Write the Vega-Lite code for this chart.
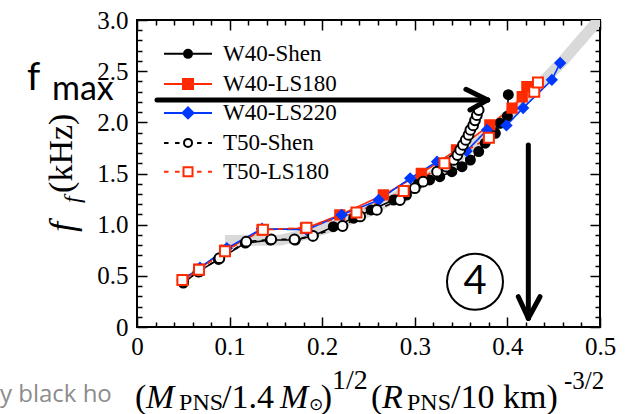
{
"$schema": "https://vega.github.io/schema/vega-lite/v6.json",
"width": 463, "height": 307,
"autosize": {"type": "none"},
"padding": {"left": 137, "top": 20, "right": 30, "bottom": 87},
"background": "white",
"config": {"view": {"stroke": "black", "strokeWidth": 2}, "legend": {"disable": true}, "axis": {"grid": false, "domain": false, "tickColor": "black", "tickWidth": 1.5, "labelFont": "Liberation Serif", "labelFontSize": 25, "labelColor": "black", "labelOverlap": false, "labelFlush": false}},
"data": {"values": [{}]},
"datasets": {
"band": [{"x":0.095,"y":0.845},{"x":0.155,"y":0.85},{"x":0.18,"y":0.9},{"x":0.21,"y":0.98},{"x":0.25,"y":1.13},{"x":0.30,"y":1.37},{"x":0.34,"y":1.61},{"x":0.38,"y":1.90},{"x":0.42,"y":2.23},{"x":0.46,"y":2.60},{"x":0.50,"y":3.02}],
"series": [
{"series":"W40-Shen","x":0.050,"y":0.430},{"series":"W40-Shen","x":0.066,"y":0.540},{"series":"W40-Shen","x":0.088,"y":0.660},{"series":"W40-Shen","x":0.117,"y":0.820},{"series":"W40-Shen","x":0.144,"y":0.850},{"series":"W40-Shen","x":0.171,"y":0.850},{"series":"W40-Shen","x":0.190,"y":0.890},{"series":"W40-Shen","x":0.212,"y":0.980},{"series":"W40-Shen","x":0.234,"y":1.063},{"series":"W40-Shen","x":0.253,"y":1.144},{"series":"W40-Shen","x":0.277,"y":1.241},{"series":"W40-Shen","x":0.291,"y":1.290},{"series":"W40-Shen","x":0.304,"y":1.405},{"series":"W40-Shen","x":0.316,"y":1.437},{"series":"W40-Shen","x":0.327,"y":1.469},{"series":"W40-Shen","x":0.340,"y":1.518},{"series":"W40-Shen","x":0.351,"y":1.567},{"series":"W40-Shen","x":0.360,"y":1.632},{"series":"W40-Shen","x":0.369,"y":1.714},{"series":"W40-Shen","x":0.376,"y":1.796},{"series":"W40-Shen","x":0.387,"y":1.893},{"series":"W40-Shen","x":0.392,"y":1.990},{"series":"W40-Shen","x":0.400,"y":2.060},{"series":"W40-Shen","x":0.401,"y":2.270},
{"series":"W40-LS180","x":0.050,"y":0.460},{"series":"W40-LS180","x":0.067,"y":0.565},{"series":"W40-LS180","x":0.095,"y":0.750},{"series":"W40-LS180","x":0.135,"y":0.950},{"series":"W40-LS180","x":0.182,"y":0.965},{"series":"W40-LS180","x":0.219,"y":1.095},{"series":"W40-LS180","x":0.266,"y":1.290},{"series":"W40-LS180","x":0.307,"y":1.500},{"series":"W40-LS180","x":0.345,"y":1.730},{"series":"W40-LS180","x":0.381,"y":1.975},{"series":"W40-LS180","x":0.405,"y":2.140},{"series":"W40-LS180","x":0.416,"y":2.250},{"series":"W40-LS180","x":0.421,"y":2.350},
{"series":"W40-LS220","x":0.049,"y":0.460},{"series":"W40-LS220","x":0.068,"y":0.580},{"series":"W40-LS220","x":0.097,"y":0.770},{"series":"W40-LS220","x":0.135,"y":0.960},{"series":"W40-LS220","x":0.183,"y":0.950},{"series":"W40-LS220","x":0.221,"y":1.095},{"series":"W40-LS220","x":0.261,"y":1.241},{"series":"W40-LS220","x":0.295,"y":1.453},{"series":"W40-LS220","x":0.324,"y":1.616},{"series":"W40-LS220","x":0.356,"y":1.720},{"series":"W40-LS220","x":0.378,"y":1.926},{"series":"W40-LS220","x":0.399,"y":1.970},{"series":"W40-LS220","x":0.417,"y":2.140},{"series":"W40-LS220","x":0.448,"y":2.415},{"series":"W40-LS220","x":0.457,"y":2.580},
{"series":"T50-Shen","x":0.050,"y":0.443},{"series":"T50-Shen","x":0.067,"y":0.541},{"series":"T50-Shen","x":0.089,"y":0.672},{"series":"T50-Shen","x":0.118,"y":0.834},{"series":"T50-Shen","x":0.145,"y":0.857},{"series":"T50-Shen","x":0.170,"y":0.857},{"series":"T50-Shen","x":0.190,"y":0.890},{"series":"T50-Shen","x":0.222,"y":0.987},{"series":"T50-Shen","x":0.241,"y":1.080},{"series":"T50-Shen","x":0.259,"y":1.144},{"series":"T50-Shen","x":0.284,"y":1.241},{"series":"T50-Shen","x":0.300,"y":1.356},{"series":"T50-Shen","x":0.309,"y":1.420},{"series":"T50-Shen","x":0.324,"y":1.518},{"series":"T50-Shen","x":0.334,"y":1.567},{"series":"T50-Shen","x":0.342,"y":1.632},{"series":"T50-Shen","x":0.346,"y":1.680},{"series":"T50-Shen","x":0.349,"y":1.730},{"series":"T50-Shen","x":0.352,"y":1.779},{"series":"T50-Shen","x":0.355,"y":1.828},{"series":"T50-Shen","x":0.358,"y":1.877},{"series":"T50-Shen","x":0.360,"y":1.926},{"series":"T50-Shen","x":0.363,"y":1.970},{"series":"T50-Shen","x":0.365,"y":2.020},{"series":"T50-Shen","x":0.367,"y":2.070},{"series":"T50-Shen","x":0.369,"y":2.120},
{"series":"T50-LS180","x":0.049,"y":0.460},{"series":"T50-LS180","x":0.067,"y":0.560},{"series":"T50-LS180","x":0.095,"y":0.740},{"series":"T50-LS180","x":0.136,"y":0.950},{"series":"T50-LS180","x":0.183,"y":0.970},{"series":"T50-LS180","x":0.237,"y":1.120},{"series":"T50-LS180","x":0.288,"y":1.330},{"series":"T50-LS180","x":0.332,"y":1.600},{"series":"T50-LS180","x":0.380,"y":1.850},{"series":"T50-LS180","x":0.429,"y":2.300},{"series":"T50-LS180","x":0.433,"y":2.390}
],
"segments": [
{"x":0.0216,"y":2.219,"x2":0.3787,"y2":2.219},
{"x":0.3552,"y":2.323,"x2":0.3787,"y2":2.219},
{"x":0.3596,"y":2.121,"x2":0.3787,"y2":2.219},
{"x":0.4226,"y":1.779,"x2":0.4226,"y2":0.085},
{"x":0.4118,"y":0.296,"x2":0.4226,"y2":0.085},
{"x":0.4352,"y":0.296,"x2":0.4226,"y2":0.085}
]
},
"resolve": {"axis": {"x": "independent", "y": "independent"}},
"layer": [
{"data": {"name": "band"},
 "mark": {"type": "line", "color": "#d9d9d9", "strokeWidth": 11, "clip": true, "strokeCap": "butt"},
 "encoding": {
  "x": {"field": "x", "type": "quantitative", "scale": {"domain": [0, 0.5], "nice": false, "zero": false},
        "axis": {"orient": "bottom", "values": [0, 0.1, 0.2, 0.3, 0.4, 0.5], "tickSize": -10, "labelPadding": 17, "title": null, "labelExpr": "datum.value === 0 ? '0' : format(datum.value, '.1f')"}},
  "y": {"field": "y", "type": "quantitative", "scale": {"domain": [0, 3], "nice": false, "zero": false},
        "axis": {"orient": "left", "values": [0, 0.5, 1, 1.5, 2, 2.5, 3], "tickSize": -10, "labelPadding": 19, "title": null, "labelExpr": "datum.value === 0 ? '0' : format(datum.value, '.1f')"}}
 }},
{"data": {"name": "series"},
 "mark": {"type": "line", "strokeWidth": 1.6},
 "encoding": {
  "x": {"field": "x", "type": "quantitative", "axis": {"orient": "bottom", "values": [0.02,0.04,0.06,0.08,0.12,0.14,0.16,0.18,0.22,0.24,0.26,0.28,0.32,0.34,0.36,0.38,0.42,0.44,0.46,0.48], "tickSize": -5, "labels": false, "title": null}},
  "y": {"field": "y", "type": "quantitative", "axis": {"orient": "left", "values": [0.1,0.2,0.3,0.4,0.6,0.7,0.8,0.9,1.1,1.2,1.3,1.4,1.6,1.7,1.8,1.9,2.1,2.2,2.3,2.4,2.6,2.7,2.8,2.9], "tickSize": -5, "labels": false, "title": null}},
  "stroke": {"field": "series", "type": "nominal", "scale": {"domain": ["W40-Shen","W40-LS180","W40-LS220","T50-Shen","T50-LS180"], "range": ["#000000","#ff2a00","#0038ff","#000000","#ff2a00"]}, "legend": null},
  "strokeDash": {"field": "series", "type": "nominal", "scale": {"domain": ["W40-Shen","W40-LS180","W40-LS220","T50-Shen","T50-LS180"], "range": [[1,0],[1,0],[1,0],[5,5],[5,5]]}, "legend": null}
 }},
{"data": {"name": "series"},
 "mark": {"type": "point", "filled": true, "strokeWidth": 2, "opacity": 1},
 "encoding": {
  "x": {"field": "x", "type": "quantitative", "axis": {"orient": "top", "values": [0, 0.1, 0.2, 0.3, 0.4, 0.5], "tickSize": -10, "labels": false, "title": null}},
  "y": {"field": "y", "type": "quantitative", "axis": {"orient": "right", "values": [0, 0.5, 1, 1.5, 2, 2.5, 3], "tickSize": -10, "labels": false, "title": null}},
  "stroke": {"field": "series", "type": "nominal", "legend": null},
  "fill": {"field": "series", "type": "nominal", "scale": {"domain": ["W40-Shen","W40-LS180","W40-LS220","T50-Shen","T50-LS180"], "range": ["#000000","#ff2a00","#0038ff","#ffffff","#ffffff"]}, "legend": null},
  "shape": {"field": "series", "type": "nominal", "scale": {"domain": ["W40-Shen","W40-LS180","W40-LS220","T50-Shen","T50-LS180"], "range": ["circle","square","diamond","circle","square"]}, "legend": null},
  "size": {"field": "series", "type": "nominal", "scale": {"domain": ["W40-Shen","W40-LS180","W40-LS220","T50-Shen","T50-LS180"], "range": [81, 100, 144, 100, 121]}, "legend": null}
 }},
{"data": {"name": "segments"},
 "mark": {"type": "rule", "color": "black", "strokeWidth": 5, "strokeCap": "round"},
 "encoding": {
  "x": {"field": "x", "type": "quantitative", "axis": {"orient": "top", "values": [0.02,0.04,0.06,0.08,0.12,0.14,0.16,0.18,0.22,0.24,0.26,0.28,0.32,0.34,0.36,0.38,0.42,0.44,0.46,0.48], "tickSize": -5, "labels": false, "title": null}},
  "y": {"field": "y", "type": "quantitative", "axis": {"orient": "right", "values": [0.1,0.2,0.3,0.4,0.6,0.7,0.8,0.9,1.1,1.2,1.3,1.4,1.6,1.7,1.8,1.9,2.1,2.2,2.3,2.4,2.6,2.7,2.8,2.9], "tickSize": -5, "labels": false, "title": null}},
  "x2": {"field": "x2"}, "y2": {"field": "y2"}
 }},
{"encoding": {"y": {"datum": 2.669, "type": "quantitative", "axis": null}},
 "layer": [
  {"mark": {"type": "rule", "color": "black", "strokeWidth": 2}, "encoding": {"x": {"datum": 0.0292, "type": "quantitative", "axis": null}, "x2": {"datum": 0.081}}},
  {"mark": {"type": "point", "shape": "circle", "filled": true, "fill": "black", "stroke": "black", "strokeWidth": 2, "size": 64, "opacity": 1}, "encoding": {"x": {"datum": 0.0551, "type": "quantitative", "axis": null}}},
  {"mark": {"type": "text", "text": "W40-Shen", "font": "Liberation Serif", "fontSize": 23, "align": "left", "baseline": "middle", "color": "black"}, "encoding": {"x": {"datum": 0.0929, "type": "quantitative", "axis": null}}}
 ]},
{"encoding": {"y": {"datum": 2.375, "type": "quantitative", "axis": null}},
 "layer": [
  {"mark": {"type": "rule", "color": "#ff2a00", "strokeWidth": 2}, "encoding": {"x": {"datum": 0.0292, "type": "quantitative", "axis": null}, "x2": {"datum": 0.081}}},
  {"mark": {"type": "point", "shape": "square", "filled": true, "fill": "#ff2a00", "stroke": "#ff2a00", "strokeWidth": 2, "size": 100, "opacity": 1}, "encoding": {"x": {"datum": 0.0551, "type": "quantitative", "axis": null}}},
  {"mark": {"type": "text", "text": "W40-LS180", "font": "Liberation Serif", "fontSize": 23, "align": "left", "baseline": "middle", "color": "black"}, "encoding": {"x": {"datum": 0.0929, "type": "quantitative", "axis": null}}}
 ]},
{"encoding": {"y": {"datum": 2.092, "type": "quantitative", "axis": null}},
 "layer": [
  {"mark": {"type": "rule", "color": "#0038ff", "strokeWidth": 2}, "encoding": {"x": {"datum": 0.0292, "type": "quantitative", "axis": null}, "x2": {"datum": 0.081}}},
  {"mark": {"type": "point", "shape": "diamond", "filled": true, "fill": "#0038ff", "stroke": "#0038ff", "strokeWidth": 2, "size": 121, "opacity": 1}, "encoding": {"x": {"datum": 0.0551, "type": "quantitative", "axis": null}}},
  {"mark": {"type": "text", "text": "W40-LS220", "font": "Liberation Serif", "fontSize": 23, "align": "left", "baseline": "middle", "color": "black"}, "encoding": {"x": {"datum": 0.0929, "type": "quantitative", "axis": null}}}
 ]},
{"encoding": {"y": {"datum": 1.799, "type": "quantitative", "axis": null}},
 "layer": [
  {"mark": {"type": "rule", "color": "black", "strokeWidth": 2, "strokeDash": [4.5, 6.5]}, "encoding": {"x": {"datum": 0.0292, "type": "quantitative", "axis": null}, "x2": {"datum": 0.081}}},
  {"mark": {"type": "point", "shape": "circle", "filled": true, "fill": "white", "stroke": "black", "strokeWidth": 2, "size": 64, "opacity": 1}, "encoding": {"x": {"datum": 0.0551, "type": "quantitative", "axis": null}}},
  {"mark": {"type": "text", "text": "T50-Shen", "font": "Liberation Serif", "fontSize": 23, "align": "left", "baseline": "middle", "color": "black"}, "encoding": {"x": {"datum": 0.0929, "type": "quantitative", "axis": null}}}
 ]},
{"encoding": {"y": {"datum": 1.517, "type": "quantitative", "axis": null}},
 "layer": [
  {"mark": {"type": "rule", "color": "#ff2a00", "strokeWidth": 2, "strokeDash": [4.5, 6.5]}, "encoding": {"x": {"datum": 0.0292, "type": "quantitative", "axis": null}, "x2": {"datum": 0.081}}},
  {"mark": {"type": "point", "shape": "square", "filled": true, "fill": "white", "stroke": "#ff2a00", "strokeWidth": 2, "size": 81, "opacity": 1}, "encoding": {"x": {"datum": 0.0551, "type": "quantitative", "axis": null}}},
  {"mark": {"type": "text", "text": "T50-LS180", "font": "Liberation Serif", "fontSize": 23, "align": "left", "baseline": "middle", "color": "black"}, "encoding": {"x": {"datum": 0.0929, "type": "quantitative", "axis": null}}}
 ]},
{"mark": {"type": "point", "shape": "circle", "filled": false, "size": 3136, "stroke": "black", "strokeWidth": 2, "opacity": 1},
 "encoding": {"x": {"datum": 0.365, "type": "quantitative", "axis": null}, "y": {"datum": 0.443, "type": "quantitative", "axis": null}}},
{"mark": {"type": "text", "text": "4", "font": "Lato", "fontSize": 40, "align": "center", "baseline": "middle", "color": "black"},
 "encoding": {"x": {"datum": 0.365, "type": "quantitative", "axis": null}, "y": {"datum": 0.443, "type": "quantitative", "axis": null}}},
{"mark": {"type": "text", "text": "f", "font": "Lato", "fontSize": 38, "align": "left", "baseline": "alphabetic", "color": "black"},
 "encoding": {"x": {"datum": -0.1188, "type": "quantitative", "axis": null}, "y": {"datum": 2.317, "type": "quantitative", "axis": null}}},
{"mark": {"type": "text", "text": "max", "font": "Lato", "fontSize": 34, "align": "left", "baseline": "alphabetic", "color": "black"},
 "encoding": {"x": {"datum": -0.0918, "type": "quantitative", "axis": null}, "y": {"datum": 2.219, "type": "quantitative", "axis": null}}},
{"mark": {"type": "text", "text": "y black ho", "font": "Open Sans", "fontSize": 24, "align": "left", "baseline": "alphabetic", "color": "#8c8c8c"},
 "encoding": {"x": {"datum": -0.148, "type": "quantitative", "axis": null}, "y": {"datum": -0.733, "type": "quantitative", "axis": null}}},
{"mark": {"type": "text", "text": "f", "font": "Liberation Serif", "fontStyle": "italic", "fontSize": 36, "align": "left", "baseline": "alphabetic", "angle": 270, "color": "black"},
 "encoding": {"x": {"datum": -0.068, "type": "quantitative", "axis": null}, "y": {"datum": 0.929, "type": "quantitative", "axis": null}}},
{"mark": {"type": "text", "text": "f", "font": "Liberation Serif", "fontStyle": "italic", "fontSize": 24, "align": "left", "baseline": "alphabetic", "angle": 270, "color": "black"},
 "encoding": {"x": {"datum": -0.0616, "type": "quantitative", "axis": null}, "y": {"datum": 1.212, "type": "quantitative", "axis": null}}},
{"mark": {"type": "text", "text": "(kHz)", "font": "Liberation Serif", "fontSize": 34, "align": "left", "baseline": "alphabetic", "angle": 270, "color": "black"},
 "encoding": {"x": {"datum": -0.0702, "type": "quantitative", "axis": null}, "y": {"datum": 1.31, "type": "quantitative", "axis": null}}},
{"mark": {"type": "text", "text": "(", "font": "Liberation Serif", "fontSize": 34, "align": "left", "baseline": "alphabetic", "color": "black"},
 "encoding": {"x": {"datum": -0.0022, "type": "quantitative", "axis": null}, "y": {"datum": -0.792, "type": "quantitative", "axis": null}}},
{"mark": {"type": "text", "text": "M", "font": "Liberation Serif", "fontStyle": "italic", "fontSize": 34, "align": "left", "baseline": "alphabetic", "color": "black"},
 "encoding": {"x": {"datum": 0.0097, "type": "quantitative", "axis": null}, "y": {"datum": -0.792, "type": "quantitative", "axis": null}}},
{"mark": {"type": "text", "text": "PNS", "font": "Liberation Serif", "fontSize": 24, "align": "left", "baseline": "alphabetic", "color": "black"},
 "encoding": {"x": {"datum": 0.0454, "type": "quantitative", "axis": null}, "y": {"datum": -0.81, "type": "quantitative", "axis": null}}},
{"mark": {"type": "text", "text": "/1.4", "font": "Liberation Serif", "fontSize": 34, "align": "left", "baseline": "alphabetic", "color": "black"},
 "encoding": {"x": {"datum": 0.0918, "type": "quantitative", "axis": null}, "y": {"datum": -0.792, "type": "quantitative", "axis": null}}},
{"mark": {"type": "text", "text": "M", "font": "Liberation Serif", "fontStyle": "italic", "fontSize": 34, "align": "left", "baseline": "alphabetic", "color": "black"},
 "encoding": {"x": {"datum": 0.1544, "type": "quantitative", "axis": null}, "y": {"datum": -0.792, "type": "quantitative", "axis": null}}},
{"mark": {"type": "text", "text": "⊙", "font": "DejaVu Sans", "fontSize": 17, "align": "left", "baseline": "alphabetic", "color": "black"},
 "encoding": {"x": {"datum": 0.1858, "type": "quantitative", "axis": null}, "y": {"datum": -0.81, "type": "quantitative", "axis": null}}},
{"mark": {"type": "text", "text": ")", "font": "Liberation Serif", "fontSize": 34, "align": "left", "baseline": "alphabetic", "color": "black"},
 "encoding": {"x": {"datum": 0.1985, "type": "quantitative", "axis": null}, "y": {"datum": -0.792, "type": "quantitative", "axis": null}}},
{"mark": {"type": "text", "text": "1/2", "font": "Liberation Serif", "fontSize": 28, "align": "left", "baseline": "alphabetic", "color": "black"},
 "encoding": {"x": {"datum": 0.2105, "type": "quantitative", "axis": null}, "y": {"datum": -0.606, "type": "quantitative", "axis": null}}},
{"mark": {"type": "text", "text": "(", "font": "Liberation Serif", "fontSize": 34, "align": "left", "baseline": "alphabetic", "color": "black"},
 "encoding": {"x": {"datum": 0.2527, "type": "quantitative", "axis": null}, "y": {"datum": -0.792, "type": "quantitative", "axis": null}}},
{"mark": {"type": "text", "text": "R", "font": "Liberation Serif", "fontStyle": "italic", "fontSize": 34, "align": "left", "baseline": "alphabetic", "color": "black"},
 "encoding": {"x": {"datum": 0.2646, "type": "quantitative", "axis": null}, "y": {"datum": -0.792, "type": "quantitative", "axis": null}}},
{"mark": {"type": "text", "text": "PNS", "font": "Liberation Serif", "fontSize": 24, "align": "left", "baseline": "alphabetic", "color": "black"},
 "encoding": {"x": {"datum": 0.2916, "type": "quantitative", "axis": null}, "y": {"datum": -0.81, "type": "quantitative", "axis": null}}},
{"mark": {"type": "text", "text": "/10 km)", "font": "Liberation Serif", "fontSize": 34, "align": "left", "baseline": "alphabetic", "color": "black"},
 "encoding": {"x": {"datum": 0.3391, "type": "quantitative", "axis": null}, "y": {"datum": -0.792, "type": "quantitative", "axis": null}}},
{"mark": {"type": "text", "text": "-3/2", "font": "Liberation Serif", "fontSize": 25, "align": "left", "baseline": "alphabetic", "color": "black"},
 "encoding": {"x": {"datum": 0.4611, "type": "quantitative", "axis": null}, "y": {"datum": -0.606, "type": "quantitative", "axis": null}}}
]
}
